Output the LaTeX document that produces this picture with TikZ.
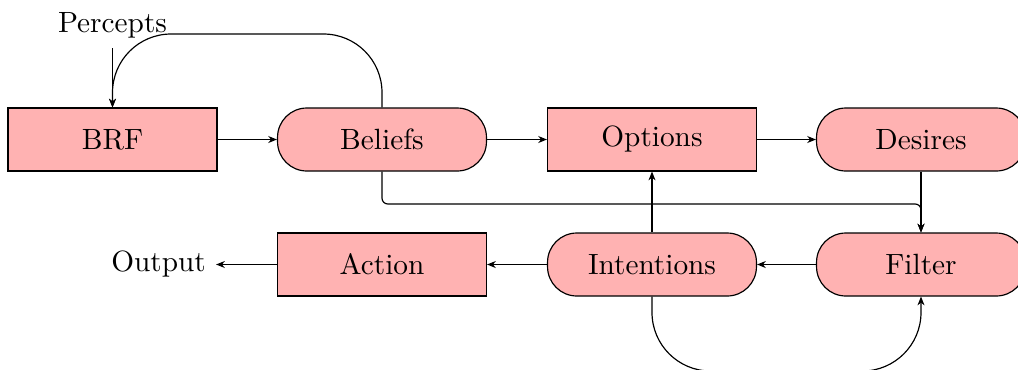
\documentclass[tikz,border=0pt]{standalone}
\usetikzlibrary{arrows.meta}
\begin{document}
\begin{tikzpicture}[x=0.3413pt,y=-0.3413pt,
  box/.style={draw, fill=red!30, minimum width=71.3pt, minimum height=21.5pt, inner sep=0pt},
  pill/.style={box, rounded corners=10pt},
  arr/.style={-{Stealth[length=3pt,width=2.4pt]}}]
\useasboundingbox (0,0) rectangle (1018,369);
\node[box] (brf) at (112.5,139.5) {BRF};
\node[pill] (bel) at (382,139.5) {Beliefs};
\node[box] (opt) at (652,139.5) {Options};
\node[pill] (des) at (921,139.5) {Desires};
\node[pill] (fil) at (921,264.5) {Filter};
\node[pill] (int) at (652,264.5) {Intentions};
\node[box] (act) at (382,264.5) {Action};
\node[anchor=base] (perc) at (112.5,32) {Percepts};
\node[anchor=base] (out) at (158.5,271.5) {Output};
\draw[arr] (perc.south -| brf.north) -- (brf.north);
\draw[arr, rounded corners=20pt] (bel.north) |- (247,34) -| (brf.north);
\draw[arr] (brf.east) -- (bel.west);
\draw[arr] (bel.east) -- (opt.west);
\draw[arr] (opt.east) -- (des.west);
\draw[arr] (des.south) -- (fil.north);
\draw[arr, rounded corners=2pt] (bel.south) |- (650,204) -| (fil.north);
\draw[arr] (fil.west) -- (int.east);
\draw[arr] (int.north) -- (opt.south);
\draw[arr] (int.west) -- (act.east);
\draw[arr] (act.west) -- (out.east |- act.west);
\draw[arr, rounded corners=20pt] (int.south) |- (786,371) -| (fil.south);
\end{tikzpicture}
\end{document}
